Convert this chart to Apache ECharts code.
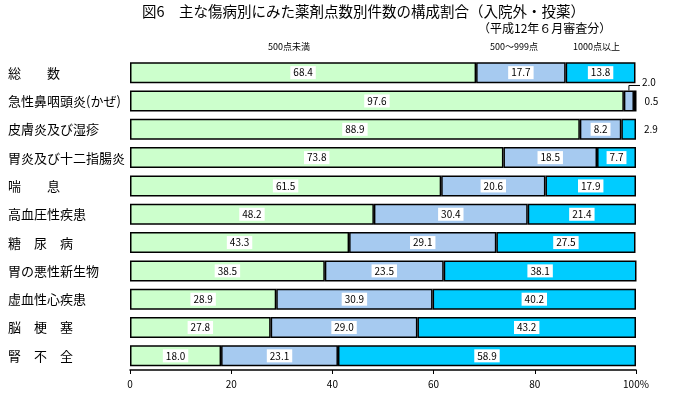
<!DOCTYPE html>
<html>
<head>
<meta charset="utf-8">
<script src="https://cdn.jsdelivr.net/npm/echarts@6/dist/echarts.min.js"></script>
<style>
  html, body { margin: 0; padding: 0; background: #fff; }
  #chart { width: 677px; height: 397px; }
</style>
</head>
<body>
<div id="chart"></div>
<script>
// 傷病名（上から順）
var categories = ['総　　数', '急性鼻咽頭炎(かぜ)', '皮膚炎及び湿疹', '胃炎及び十二指腸炎', '喘　　息',
    '高血圧性疾患', '糖　尿　病', '胃の悪性新生物', '虚血性心疾患', '脳　梗　塞', '腎　不　全'];

// 薬剤点数別の構成割合（％）
var under500 = [68.4, 97.6, 88.9, 73.8, 61.5, 48.2, 43.3, 38.5, 28.9, 27.8, 18.0];
var from500to999 = [17.7, 2.0, 8.2, 18.5, 20.6, 30.4, 29.1, 23.5, 30.9, 29.0, 23.1];
var over1000 = [13.8, 0.5, 2.9, 7.7, 17.9, 21.4, 27.5, 38.1, 40.2, 43.2, 58.9];

var seriesNames = ['500点未満', '500～999点', '1000点以上'];
var xTicks = [0, 20, 40, 60, 80, 100];

var FONT = '"Noto Sans CJK JP", sans-serif';

var chart = echarts.init(document.getElementById('chart'));

var insideLabel = {
    show: true,
    position: 'inside',
    color: '#000',
    fontSize: 10,
    fontFamily: FONT,
    backgroundColor: '#fff',
    padding: [2, 3, 1, 3],
    formatter: function (p) { return p.value.toFixed(1); }
};

// 小さい区分は棒の外に表示
function buildData(values, outside) {
    return values.map(function (v, i) {
        if (outside[i] === 'hide') {
            return { value: v, label: { show: false } };
        }
        if (outside[i] === 'right') {
            return { value: v, label: { show: true, position: 'right', distance: 8, backgroundColor: 'transparent', padding: 0 } };
        }
        return v;
    });
}

function makeSeries(name, values, color, outside) {
    return {
        name: name,
        type: 'bar',
        stack: 'total',
        barWidth: 21,
        data: buildData(values, outside),
        itemStyle: { color: color, borderColor: '#000', borderWidth: 1.5 },
        label: insideLabel,
        silent: true,
        animation: false
    };
}

var option = {
    backgroundColor: '#fff',
    animation: false,
    textStyle: { fontFamily: FONT },
    grid: { left: 130, right: 41, top: 58.5, height: 311.5 },
    xAxis: {
        type: 'value',
        min: 0,
        max: 100,
        interval: 20,
        axisLine: { show: true, lineStyle: { color: '#000', width: 1.5 } },
        axisTick: { show: true, length: 4, lineStyle: { color: '#000' } },
        splitLine: { show: false },
        axisLabel: {
            color: '#000',
            fontSize: 10,
            fontFamily: FONT,
            margin: 9,
            formatter: function (v) { return xTicks.indexOf(v) === xTicks.length - 1 ? v + '%' : String(v); }
        }
    },
    yAxis: {
        type: 'category',
        data: categories,
        inverse: true,
        axisLine: { show: false },
        axisTick: { show: false },
        axisLabel: {
            color: '#000',
            fontSize: 13,
            fontFamily: FONT,
            align: 'left',
            margin: 122
        }
    },
    series: [
        makeSeries(seriesNames[0], under500, '#CCFFCC', []),
        makeSeries(seriesNames[1], from500to999, '#A6CAF0', [null, 'hide']),
        makeSeries(seriesNames[2], over1000, '#00CCFF', [null, 'right', 'right'])
    ],
    graphic: [
        { type: 'text', left: 142, top: 4, style: { text: '図6　主な傷病別にみた薬剤点数別件数の構成割合（入院外・投薬）', font: '14.5px ' + FONT, fill: '#000' } },
        { type: 'text', left: 478, top: 22, style: { text: '（平成12年６月審査分）', font: '12px ' + FONT, fill: '#000' } },
        { type: 'text', left: 268, top: 42, style: { text: seriesNames[0], font: '9px ' + FONT, fill: '#000' } },
        { type: 'text', left: 490, top: 42, style: { text: seriesNames[1], font: '9px ' + FONT, fill: '#000' } },
        { type: 'text', left: 573, top: 42, style: { text: seriesNames[2], font: '9px ' + FONT, fill: '#000' } }
    ]
};

chart.setOption(option);

// 急性鼻咽頭炎の 500～999点 区分は引出線付きで右上に表示
var row = 1;
var segMid = chart.convertToPixel({ xAxisIndex: 0, yAxisIndex: 0 }, [under500[row] + from500to999[row] / 2, row]);
var barTop = segMid[1] - 10.5;
var lineY = barTop - 5;
var endX = chart.convertToPixel({ xAxisIndex: 0 }, 100) + 4;
chart.setOption({
    graphic: option.graphic.concat([
        { type: 'polyline', shape: { points: [[segMid[0], barTop], [segMid[0], lineY], [endX, lineY]] }, style: { stroke: '#000', lineWidth: 1, fill: null } },
        { type: 'text', left: endX + 2, top: lineY - 8, style: { text: from500to999[row].toFixed(1), font: '10px ' + FONT, fill: '#000' } }
    ])
});
</script>
</body>
</html>
